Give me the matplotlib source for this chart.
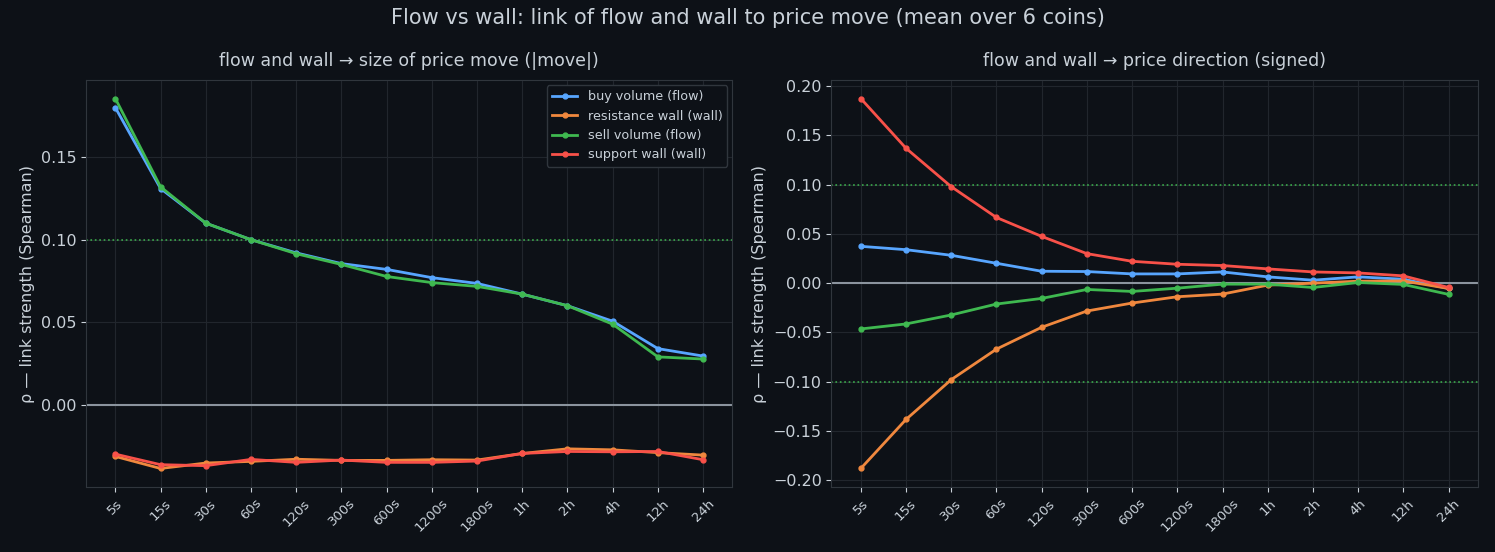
import numpy as np
import matplotlib
matplotlib.use("Agg")
import matplotlib.pyplot as plt

horizons = ["5s", "15s", "30s", "60s", "120s", "300s", "600s", "1200s",
            "1800s", "1h", "2h", "4h", "12h", "24h"]

# size of price move (|move|)
size_buy = [0.180, 0.131, 0.110, 0.100, 0.092, 0.0855, 0.082, 0.077,
            0.0735, 0.067, 0.060, 0.0506, 0.034, 0.0295]
size_resist = [-0.0313, -0.0386, -0.0353, -0.0343, -0.0330, -0.0337, -0.0337,
               -0.0333, -0.0335, -0.0295, -0.0267, -0.0273, -0.0290, -0.0305]
size_sell = [0.1855, 0.132, 0.110, 0.100, 0.0915, 0.085, 0.0777, 0.074,
             0.0717, 0.067, 0.060, 0.0488, 0.029, 0.0277]
size_support = [-0.0299, -0.0363, -0.0369, -0.0331, -0.0349, -0.0335, -0.0349,
                -0.0349, -0.0341, -0.0295, -0.0283, -0.0285, -0.0283, -0.0333]

# price direction (signed)
dir_buy = [0.0374, 0.034, 0.0283, 0.0202, 0.0121, 0.0118, 0.0094, 0.0094,
           0.0114, 0.0064, 0.003, 0.0064, 0.004, -0.0054]
dir_resist = [-0.1882, -0.1384, -0.098, -0.067, -0.0448, -0.0283, -0.0202,
              -0.0138, -0.0111, -0.002, 0.000, 0.002, 0.0023, -0.0054]
dir_sell = [-0.0465, -0.0414, -0.0323, -0.0212, -0.0155, -0.0064, -0.0084,
            -0.0051, -0.001, -0.001, -0.0044, 0.0007, -0.0013, -0.0114]
dir_support = [0.1875, 0.137, 0.098, 0.0667, 0.0475, 0.030, 0.0222, 0.0192,
               0.0179, 0.0145, 0.0114, 0.0104, 0.0074, -0.0044]

bg = "#0d1117"
fg = "#c9d1d9"
grid_c = "#21262d"
spine_c = "#30363d"
colors = {"buy": "#58a6ff", "resist": "#f0883e", "sell": "#3fb950", "support": "#f85149"}

plt.rcParams["font.family"] = ["DejaVu Sans"]

fig, axes = plt.subplots(1, 2, figsize=(14.95, 5.52), dpi=100)
fig.patch.set_facecolor(bg)
fig.subplots_adjust(left=0.0575, right=0.9886, top=0.855, bottom=0.1178, wspace=0.153)

x = np.arange(len(horizons))

panels = [
    (axes[0], "flow and wall \u2192 size of price move (|move|)",
     size_buy, size_resist, size_sell, size_support, [0.1]),
    (axes[1], "flow and wall \u2192 price direction (signed)",
     dir_buy, dir_resist, dir_sell, dir_support, [0.1, -0.1]),
]

for ax, title, buy, resist, sell, support, refs in panels:
    ax.set_facecolor(bg)
    ax.grid(True, color=grid_c, linewidth=0.8)
    ax.set_axisbelow(True)
    ax.axhline(0, color="#8b949e", linewidth=1.5, zorder=1)
    for r in refs:
        ax.axhline(r, color="#3fb950", linestyle=":", linewidth=1.2, alpha=0.9, zorder=1)
    ax.plot(x, buy, "-o", color=colors["buy"], lw=2, ms=3.5, label="buy volume (flow)")
    ax.plot(x, resist, "-o", color=colors["resist"], lw=2, ms=3.5, label="resistance wall (wall)")
    ax.plot(x, sell, "-o", color=colors["sell"], lw=2, ms=3.5, label="sell volume (flow)")
    ax.plot(x, support, "-o", color=colors["support"], lw=2, ms=3.5, label="support wall (wall)")
    ax.set_xticks(x)
    ax.set_xticklabels(horizons, rotation=45, fontsize=9.5, color=fg)
    ax.tick_params(axis="y", labelsize=11.5, colors=fg)
    ax.tick_params(axis="x", colors=fg)
    for s in ax.spines.values():
        s.set_color(spine_c)
    ax.set_title(title, color=fg, fontsize=12.5, pad=10)
    ax.set_ylabel("\u03c1 \u2014 link strength (Spearman)", color=fg, fontsize=11.5)

axes[1].set_yticks(np.arange(-0.20, 0.201, 0.05))

leg = axes[0].legend(loc="upper right", fontsize=9.2, facecolor=bg, edgecolor=spine_c,
                     labelcolor=fg, framealpha=1, borderaxespad=0.4)

fig.suptitle("Flow vs wall: link of flow and wall to price move (mean over 6 coins)",
             color=fg, fontsize=15, y=0.985)

fig.savefig("out.png", facecolor=bg)
